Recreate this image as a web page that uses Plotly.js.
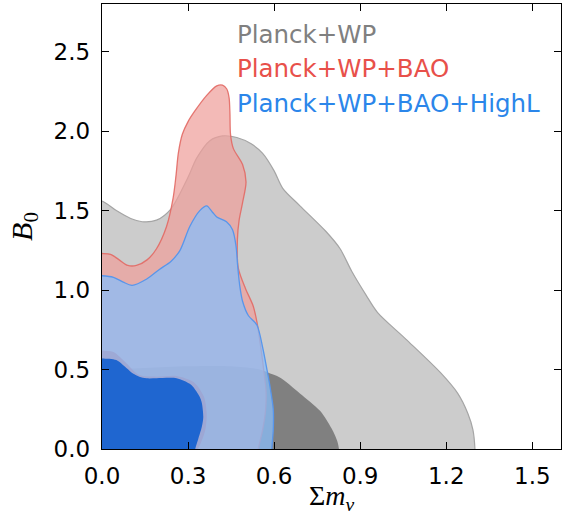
<!DOCTYPE html>
<html>
<head>
<meta charset="utf-8">
<script src="https://cdn.plot.ly/plotly-3.0.1.min.js"></script>
<style>html,body{margin:0;padding:0;background:#fff;}#chart{width:570px;height:515px;}</style>
</head>
<body>
<div id="chart"></div>
<script>
// Planck+WP 95% contour
var wp95_x = [-0.05, 0, 0.05, 0.10, 0.14, 0.19, 0.24, 0.30, 0.33, 0.376, 0.42, 0.47, 0.52, 0.56, 0.60, 0.63, 0.69, 0.78, 0.83, 0.87, 0.92, 0.96, 1.06, 1.18, 1.24, 1.275, 1.293, 1.30, 1.30, -0.05];
var wp95_y = [1.56, 1.56, 1.50, 1.45, 1.43, 1.44, 1.51, 1.71, 1.83, 1.94, 1.97, 1.96, 1.92, 1.86, 1.75, 1.64, 1.53, 1.37, 1.26, 1.12, 0.97, 0.86, 0.69, 0.48, 0.35, 0.225, 0.12, 0, -0.05, -0.05];
// Planck+WP 68% contour
var wp68_x = [-0.05, 0, 0.15, 0.30, 0.45, 0.55, 0.58, 0.62, 0.69, 0.76, 0.80, 0.82, 0.826, 0.826, -0.05];
var wp68_y = [0.50, 0.50, 0.51, 0.52, 0.52, 0.50, 0.48, 0.45, 0.35, 0.24, 0.13, 0.05, 0, -0.05, -0.05];
// Planck+WP+BAO 95% contour
var bao95_x = [-0.05, 0, 0.03, 0.06, 0.09, 0.12, 0.157, 0.19, 0.225, 0.248, 0.258, 0.266, 0.28, 0.30, 0.325, 0.365, 0.40, 0.42, 0.435, 0.443, 0.446, 0.448, 0.458, 0.49, 0.502, 0.49, 0.478, 0.472, 0.475, 0.50, 0.527, 0.54, 0.555, 0.565, 0.572, 0.57, 0.56, 0.545, 0.545, -0.05];
var bao95_y = [1.23, 1.23, 1.225, 1.19, 1.155, 1.155, 1.19, 1.26, 1.40, 1.58, 1.72, 1.86, 1.98, 2.06, 2.13, 2.225, 2.285, 2.29, 2.265, 2.21, 2.11, 1.98, 1.89, 1.79, 1.68, 1.55, 1.44, 1.32, 1.14, 1.01, 0.90, 0.80, 0.62, 0.48, 0.36, 0.24, 0.12, 0, -0.05, -0.05];
// Planck+WP+BAO 68% contour
var bao68_x = [-0.05, 0, 0.04, 0.085, 0.13, 0.19, 0.26, 0.32, 0.355, 0.365, 0.36, 0.345, 0.335, 0.335, -0.05];
var bao68_y = [0.62, 0.62, 0.61, 0.54, 0.465, 0.455, 0.46, 0.42, 0.33, 0.22, 0.12, 0.04, 0, -0.05, -0.05];
// Planck+WP+BAO+HighL 95% contour
var hl95_x = [-0.05, 0, 0.04, 0.074, 0.105, 0.156, 0.20, 0.24, 0.272, 0.306, 0.341, 0.365, 0.385, 0.40, 0.434, 0.455, 0.467, 0.473, 0.48, 0.49, 0.51, 0.54, 0.56, 0.575, 0.585, 0.597, 0.597, 0.592, 0.592, -0.05];
var hl95_y = [1.09, 1.09, 1.08, 1.05, 1.03, 1.07, 1.13, 1.18, 1.25, 1.40, 1.50, 1.53, 1.49, 1.46, 1.43, 1.38, 1.28, 1.15, 1.03, 0.93, 0.84, 0.78, 0.64, 0.50, 0.40, 0.25, 0.12, 0, -0.05, -0.05];
// Planck+WP+BAO+HighL 68% contour
var hl68_x = [-0.05, 0, 0.05, 0.085, 0.108, 0.13, 0.155, 0.19, 0.26, 0.306, 0.318, 0.34, 0.348, 0.353, 0.348, 0.335, 0.325, 0.325, -0.05];
var hl68_y = [0.57, 0.57, 0.56, 0.51, 0.475, 0.455, 0.445, 0.445, 0.445, 0.41, 0.39, 0.33, 0.29, 0.20, 0.14, 0.06, 0, -0.05, -0.05];

var legendLabels = ['Planck+WP', 'Planck+WP+BAO', 'Planck+WP+BAO+HighL'];
var legendColors = ['#808080', '#e8504a', '#2b86ea'];
var xTicks = [0.0, 0.3, 0.6, 0.9, 1.2, 1.5];
var yTicks = [0.0, 0.5, 1.0, 1.5, 2.0, 2.5];

function region(x, y, fill, line, lw) {
  return {
    type: 'scatter', mode: 'lines', x: x, y: y, fill: 'toself',
    fillcolor: fill, hoverinfo: 'skip', showlegend: false,
    line: {color: line, width: lw, shape: 'spline', smoothing: 0.8}
  };
}

var data = [
  region(wp95_x, wp95_y, 'rgb(204,204,204)', 'rgb(165,165,165)', 1.2),
  region(wp68_x, wp68_y, 'rgb(128,128,128)', 'rgba(128,128,128,0)', 0),
  region(bao95_x, bao95_y, 'rgba(238,160,155,0.72)', 'rgba(226,105,100,0.9)', 1.3),
  region(bao68_x, bao68_y, 'rgba(215,80,80,0.7)', 'rgba(215,80,80,0)', 0),
  region(hl95_x, hl95_y, 'rgba(138,190,250,0.75)', 'rgb(88,150,235)', 1.3),
  region(hl68_x, hl68_y, 'rgb(31,102,208)', 'rgba(31,102,208,0)', 0)
];

var annYs = [2.61, 2.393, 2.176];
var annotations = legendLabels.map(function (t, i) {
  return {
    text: t, x: 0.462, y: annYs[i], xref: 'x', yref: 'y',
    xanchor: 'left', yanchor: 'middle', showarrow: false,
    font: {family: 'DejaVu Sans', size: 24.5, color: legendColors[i]}
  };
});

var axisCommon = {
  showline: true, linecolor: 'black', linewidth: 1.2, mirror: 'ticks',
  ticks: 'inside', ticklen: 7, tickwidth: 1, tickcolor: 'black',
  showgrid: false, zeroline: false, tickformat: '.1f',
  tickfont: {family: 'DejaVu Sans', size: 23, color: 'black'},
  ticklabelstandoff: 6
};

var layout = {
  width: 570, height: 515,
  margin: {l: 102, r: 9, t: 4, b: 66},
  paper_bgcolor: 'white', plot_bgcolor: 'white',
  showlegend: false,
  xaxis: Object.assign({}, axisCommon, {
    range: [0, 1.6], tickvals: xTicks,
    title: {text: 'Σ<i>m</i><sub><i>ν</i></sub>', font: {family: 'Liberation Serif', size: 28, color: 'black'}, standoff: 6}
  }),
  yaxis: Object.assign({}, axisCommon, {
    range: [0, 2.8], tickvals: yTicks,
    title: {text: '<i>B</i><sub>0</sub>', font: {family: 'Liberation Serif', size: 30, color: 'black'}, standoff: 12}
  }),
  annotations: annotations
};

Plotly.newPlot('chart', data, layout, {displayModeBar: false, staticPlot: true});
</script>
</body>
</html>
